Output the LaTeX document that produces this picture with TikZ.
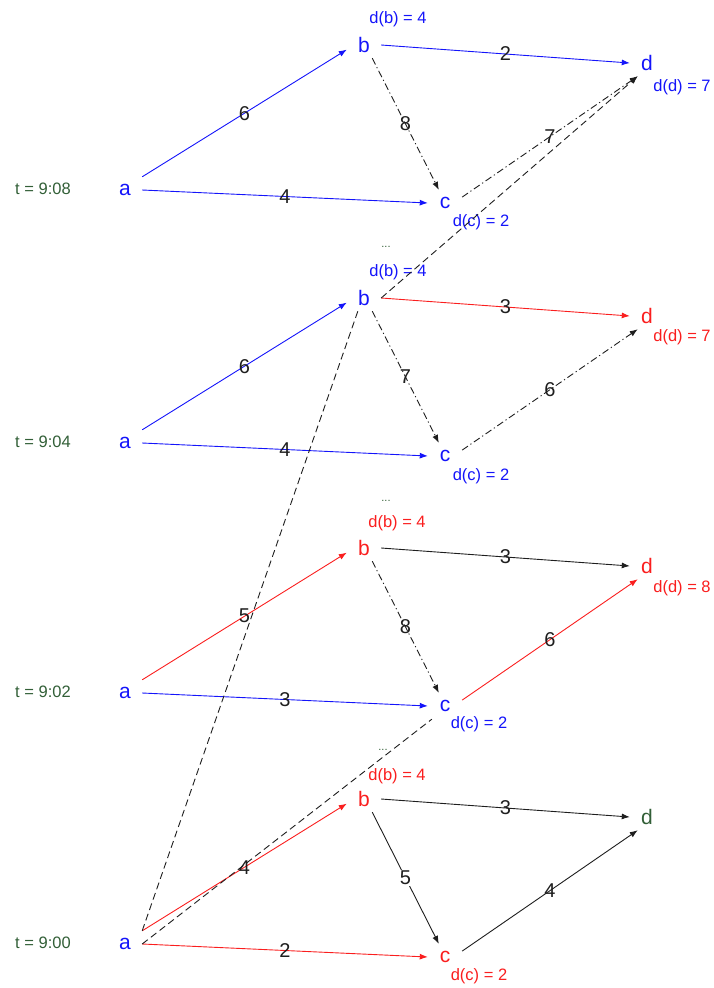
\documentclass[tikz,border=0pt]{standalone}
\usepackage{fontspec}
\setmainfont{Liberation Sans}
\usetikzlibrary{arrows.meta}
\definecolor{cb}{RGB}{20,20,250}
\definecolor{cr}{RGB}{250,30,30}
\definecolor{dg}{RGB}{50,95,55}
\definecolor{wk}{RGB}{30,30,30}
\tikzset{
  vtx/.style={font=\fontsize{21}{24}\selectfont, minimum width=34pt, minimum height=26pt, inner sep=0pt},
  lab/.style={font=\fontsize{16.5}{19}\selectfont, inner sep=0pt},
  tl/.style={lab, text=dg},
  dots/.style={font=\fontsize{11}{12}\selectfont, text=dg, inner sep=0pt},
  w/.style={font=\fontsize{20}{23}\selectfont, text=wk, inner sep=0pt},
  e/.style={line width=0.9pt, -{Latex[length=8pt,width=6pt]}},
  dd/.style={wk, dash pattern=on 7pt off 3pt on 1.2pt off 3pt},
  ds/.style={wk, line width=0.9pt, dash pattern=on 7pt off 4pt}
}
\begin{document}
\begin{tikzpicture}[x=1pt,y=-1pt]
\useasboundingbox (0,0) rectangle (714,988);
% ---------- t = 9:08 ----------
\node[vtx,text=cb] (a1) at (125,190) {a};
\node[vtx,text=cb] (b1) at (364,45) {b};
\node[vtx,text=cb] (c1) at (445,203) {c};
\node[vtx,text=cb] (d1) at (647,63) {d};
\node[tl] (t1) at (43,189) {t = 9:08};
\node[lab,text=cb] (lb1) at (398,19) {d(b) = 4};
\node[lab,text=cb] (lc1) at (481,222) {d(c) = 2};
\node[lab,text=cb] (ld1) at (682,87) {d(d) = 7};
\draw[e,cb] (a1.north east) -- node[w]{6} (b1.195);
\draw[e,cb] (a1.east) -- node[w]{4} (c1.west);
\draw[e,cb] (b1.east) -- node[w]{2} (d1.west);
\draw[e,dd] (b1.302) -- node[w]{8} (c1.115);
\draw[e,dd] (c1.19) -- node[w]{7} (d1.235);
% ---------- t = 9:04 ----------
\node[vtx,text=cb] (a2) at (125,443) {a};
\node[vtx,text=cb] (b2) at (364,298) {b};
\node[vtx,text=cb] (c2) at (445,456) {c};
\node[vtx,text=cr] (d2) at (647,316) {d};
\node[tl] (t2) at (43,442) {t = 9:04};
\node[lab,text=cb] (lb2) at (398,272) {d(b) = 4};
\node[lab,text=cb] (lc2) at (481,476) {d(c) = 2};
\node[lab,text=cr] (ld2) at (682,337) {d(d) = 7};
\node[dots] (p2) at (386,247) {...};
\draw[e,cb] (a2.north east) -- node[w]{6} (b2.195);
\draw[e,cb] (a2.east) -- node[w]{4} (c2.west);
\draw[e,cr] (b2.east) -- node[w]{3} (d2.west);
\draw[e,dd] (b2.302) -- node[w]{7} (c2.115);
\draw[e,dd] (c2.19) -- node[w]{6} (d2.235);
% ---------- t = 9:02 ----------
\node[vtx,text=cb] (a3) at (125,693) {a};
\node[vtx,text=cr] (b3) at (364,548) {b};
\node[vtx,text=cb] (c3) at (445,706) {c};
\node[vtx,text=cr] (d3) at (647,566) {d};
\node[tl] (t3) at (43,692) {t = 9:02};
\node[lab,text=cr] (lb3) at (397,523) {d(b) = 4};
\node[lab,text=cb] (lc3) at (479,724) {d(c) = 2};
\node[lab,text=cr] (ld3) at (682,588) {d(d) = 8};
\node[dots] (p3) at (386,501) {...};
\draw[e,cr] (a3.north east) -- node[w]{5} (b3.195);
\draw[e,cb] (a3.east) -- node[w]{3} (c3.west);
\draw[e,wk] (b3.east) -- node[w]{3} (d3.west);
\draw[e,dd] (b3.302) -- node[w]{8} (c3.115);
\draw[e,cr] (c3.19) -- node[w]{6} (d3.235);
% ---------- t = 9:00 ----------
\node[vtx,text=cb] (a4) at (125,944) {a};
\node[vtx,text=cr] (b4) at (364,799) {b};
\node[vtx,text=cr] (c4) at (445,957) {c};
\node[vtx,text=dg] (d4) at (647,817) {d};
\node[tl] (t4) at (43,943) {t = 9:00};
\node[lab,text=cr] (lb4) at (397,776) {d(b) = 4};
\node[lab,text=cr] (lc4) at (479,976) {d(c) = 2};
\node[dots] (p4) at (383,750) {...};
\draw[e,cr] (a4.north east) -- node[w]{4} (b4.195);
\draw[e,cr] (a4.east) -- node[w]{2} (c4.west);
\draw[e,wk] (b4.east) -- node[w]{3} (d4.west);
\draw[e,wk] (b4.302) -- node[w,fill=white,inner sep=1pt]{5} (c4.115);
\draw[e,wk] (c4.19) -- node[w]{4} (d4.235);
% ---------- long dashed links ----------
\draw[ds] (a4.north east) -- (b2.245);
\draw[ds] (a4.east) -- (c3.225);
\draw[ds,-{Latex[length=8pt,width=6pt]}] (b2.east) -- (d1.235);
\end{tikzpicture}
\end{document}
